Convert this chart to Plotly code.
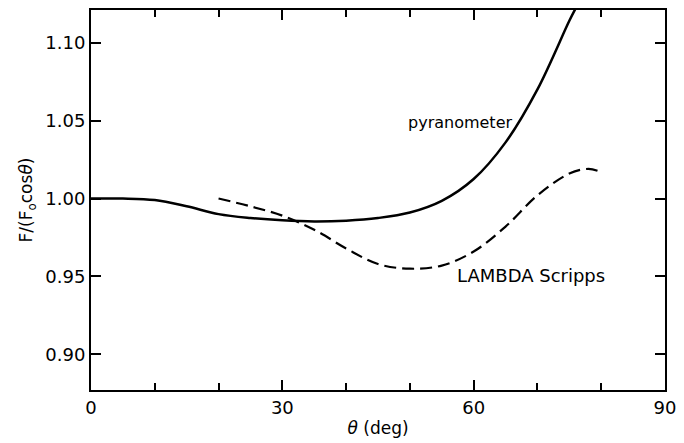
import plotly.graph_objects as go

# Pyranometer (solid)
pyr_theta = [0, 5, 10, 15, 20, 25, 30, 35, 40, 45, 50, 55, 60, 65, 70, 75, 76]
pyr_ratio = [1.000, 1.000, 0.999, 0.995, 0.990, 0.9875, 0.986, 0.9853, 0.9858, 0.9875,
             0.9910, 0.9985, 1.0125, 1.0360, 1.0700, 1.1140, 1.1220]

# LAMBDA Scripps (dashed)
lam_theta = [20, 25, 30, 35, 40, 45, 50, 55, 60, 65, 70, 75, 78, 80]
lam_ratio = [1.000, 0.995, 0.989, 0.980, 0.968, 0.958, 0.955, 0.957, 0.966, 0.982,
             1.002, 1.016, 1.019, 1.017]

x_ticks = [0, 30, 60, 90]
y_ticks = [0.90, 0.95, 1.00, 1.05, 1.10]

FONT = "DejaVu Sans"

fig = go.Figure()
fig.add_trace(go.Scatter(x=pyr_theta, y=pyr_ratio, mode="lines", line_shape="spline",
                         line=dict(color="black", width=2.5, smoothing=1.0), showlegend=False))
fig.add_trace(go.Scatter(x=lam_theta, y=lam_ratio, mode="lines", line_shape="spline",
                         line=dict(color="black", width=2.2, dash="12px,6px"), showlegend=False))

fig.add_annotation(x=57.9, y=1.049, text="pyranometer", showarrow=False,
                   font=dict(family=FONT, size=16, color="black"))
fig.add_annotation(x=69.0, y=0.9506, text="LAMBDA Scripps", showarrow=False,
                   font=dict(family=FONT, size=18, color="black"))

fig.update_xaxes(range=[0, 90], tickvals=x_ticks, ticktext=[str(v) for v in x_ticks],
                 ticks="inside", ticklen=10, tickwidth=1.5, tickcolor="black",
                 minor=dict(dtick=10, tick0=0, ticks="inside", ticklen=7, tickwidth=1.5, tickcolor="black"),
                 showline=True, linecolor="black", linewidth=2, mirror="ticks",
                 showgrid=False, zeroline=False,
                 tickfont=dict(family=FONT, size=18, color="black"),
                 title=dict(text="<i>θ</i> (deg)", font=dict(family=FONT, size=17, color="black"), standoff=6))
fig.update_yaxes(range=[0.8772, 1.1209], tickvals=y_ticks, ticktext=[f"{v:.2f}" for v in y_ticks],
                 ticks="inside", ticklen=10, tickwidth=1.5, tickcolor="black",
                 showline=True, linecolor="black", linewidth=2, mirror="ticks",
                 showgrid=False, zeroline=False,
                 tickfont=dict(family=FONT, size=18, color="black"),
                 title=dict(text="F/(F<sub>o</sub>cos<i>θ</i>)", font=dict(family=FONT, size=17, color="black"), standoff=8))

fig.update_layout(width=684, height=443, margin=dict(l=91, r=14, t=8, b=50),
                  paper_bgcolor="white", plot_bgcolor="white")

fig.write_html("out.html")
